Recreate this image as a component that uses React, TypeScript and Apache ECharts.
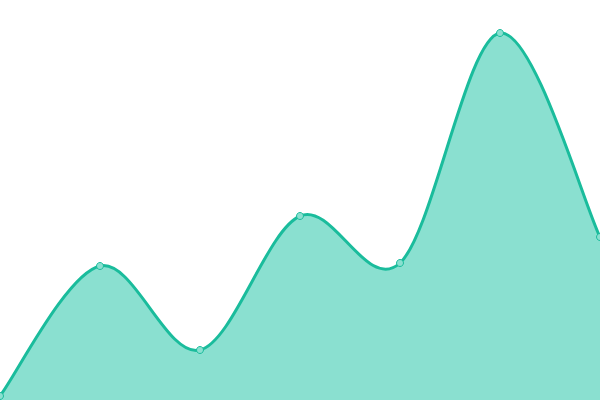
import React, { useEffect, useRef } from 'react';
import * as echarts from 'echarts';

// categories along x (axis hidden in the reference)
const categories = ['1', '2', '3', '4', '5', '6', '7'];
// values, y axis runs 0..400
const values = [4, 134, 50, 184, 137, 367, 163];

const LINE = '#1abc9c';
const FILL = '#8ae0d0';

// uniform Catmull-Rom through pixel points, as cubic beziers
function splinePath(pts: number[][]): string {
  let d = `M${pts[0][0]},${pts[0][1]}`;
  for (let i = 0; i < pts.length - 1; i++) {
    const p0 = pts[i - 1] || pts[i];
    const p1 = pts[i];
    const p2 = pts[i + 1];
    const p3 = pts[i + 2] || p2;
    const c1x = p1[0] + (p2[0] - p0[0]) / 6;
    const c1y = p1[1] + (p2[1] - p0[1]) / 6;
    const c2x = p2[0] - (p3[0] - p1[0]) / 6;
    const c2y = p2[1] - (p3[1] - p1[1]) / 6;
    d += ` C${c1x},${c1y} ${c2x},${c2y} ${p2[0]},${p2[1]}`;
  }
  return d;
}

const App: React.FC = () => {
  const chartRef = useRef<HTMLDivElement>(null);

  useEffect(() => {
    if (!chartRef.current) return;
    const chart = echarts.init(chartRef.current, undefined, { renderer: 'svg' });

    const option: echarts.EChartsOption = {
      animation: false,
      grid: { left: 0, right: 0, top: 0, bottom: 0 },
      xAxis: {
        type: 'category',
        data: categories,
        boundaryGap: false,
        show: false,
      },
      yAxis: {
        type: 'value',
        min: 0,
        max: 400,
        show: false,
      },
      series: [
        {
          // smooth area + line, drawn once from all points
          type: 'custom',
          coordinateSystem: 'cartesian2d',
          data: values.map((v, i) => [i, v]),
          encode: { x: 0, y: 1 },
          z: 2,
          renderItem: (params: any, api: any) => {
            if (params.dataIndex !== 0) return null;
            const pts = values.map((v, i) => api.coord([i, v]));
            const base = api.coord([0, 0])[1];
            const curve = splinePath(pts);
            const last = pts[pts.length - 1];
            const area = `${curve} L${last[0]},${base} L${pts[0][0]},${base} Z`;
            return {
              type: 'group',
              children: [
                { type: 'path', shape: { pathData: area }, style: { fill: FILL } },
                {
                  type: 'path',
                  shape: { pathData: curve },
                  style: { fill: 'none', stroke: LINE, lineWidth: 3 },
                },
              ],
            };
          },
        },
        {
          // point markers only
          type: 'line',
          data: values,
          z: 3,
          symbol: 'circle',
          symbolSize: 7,
          showSymbol: true,
          lineStyle: { opacity: 0 },
          itemStyle: { color: FILL, borderColor: LINE, borderWidth: 1 },
        },
      ],
    };

    chart.setOption(option);
    return () => {
      chart.dispose();
    };
  }, []);

  return (
    <div
      ref={chartRef}
      style={{ position: 'fixed', left: 0, top: 0, width: 600, height: 400 }}
    />
  );
};

export default App;
